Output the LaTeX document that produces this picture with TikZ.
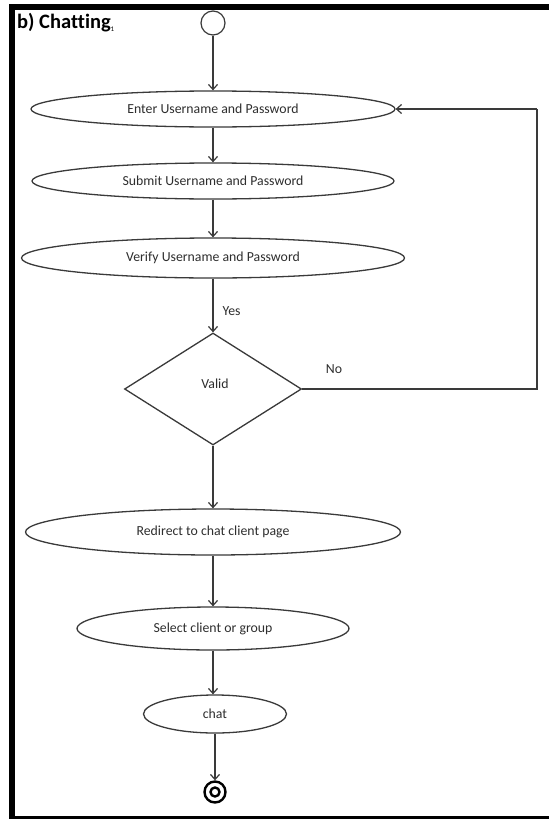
\documentclass[tikz,border=0pt]{standalone}
\usepackage{fontspec}
\setmainfont{Carlito}[Ligatures=NoCommon]
\usetikzlibrary{shapes.geometric,arrows.meta}
\definecolor{ln}{HTML}{3A3A3A}
\definecolor{tx}{HTML}{2E2E2E}
\tikzset{
  act/.style={ellipse, draw=ln, line width=1.3pt, inner sep=0pt, text=tx, font=\fontsize{13.8}{16}\selectfont},
  dec/.style={diamond, draw=ln, line width=1.3pt, inner sep=0pt, text=tx, font=\fontsize{13.8}{16}\selectfont},
  lbl/.style={text=tx, font=\fontsize{13.8}{16}\selectfont, inner sep=0pt},
  arr/.style={draw=ln, line width=1.2pt, -{Straight Barb[length=5pt,width=9pt]}},
  lin/.style={draw=ln, line width=1.2pt}
}
\begin{document}
\begin{tikzpicture}[x=1pt,y=-1pt]
\useasboundingbox (0,0) rectangle (549,819);
\fill[white] (0,0) rectangle (549,819);
% frame
\fill[black] (9,4) rectangle (549,10);
\fill[black] (9,4) rectangle (15,819);
\fill[black] (9,816) rectangle (549,819);
% title
\node[anchor=base west, inner sep=0pt, font=\fontsize{20.5}{24}\bfseries\selectfont] (title) at (17,28) {b) Chatting\textsubscript{\fontsize{7}{8}\selectfont\mdseries 1}};
% nodes
\node[circle, draw=ln, line width=1.2pt, minimum size=24pt, inner sep=0pt] (start) at (213,23) {};
\node[act, minimum width=364pt, minimum height=36pt] (e1) at (213,109) {Enter Username and Password};
\node[act, minimum width=362pt, minimum height=36pt] (e2) at (213,181) {Submit Username and Password};
\node[act, minimum width=383pt, minimum height=40pt] (e3) at (213,258) {Verify Username and Password};
\node[dec, minimum width=177pt, minimum height=112pt] (valid) at (213,389) {};
\node[lbl] (validt) at (215,384) {Valid};
\node[act, minimum width=375pt, minimum height=46pt] (e4) at (213,532) {Redirect to chat client page};
\node[act, minimum width=272pt, minimum height=43pt] (e5) at (213,628.5) {Select client or group};
\node[act, minimum width=143pt, minimum height=38pt] (e6) at (215,714) {chat};
\node[circle, draw=black, line width=2.4pt, minimum size=21pt, inner sep=0pt] (end) at (215,792) {};
\node[circle, draw=black, line width=2.4pt, minimum size=9pt, inner sep=0pt] (endin) at (215,792) {};
\coordinate (c1) at (537,389);
\coordinate (c2) at (537,109);
% connectors
\draw[arr] (start) -- (e1);
\draw[arr] (e1) -- (e2);
\draw[arr] (e2) -- (e3);
\draw[arr] (e3) -- node[lbl, pos=0.6, right=9pt] (yes) {Yes} (valid);
\draw[arr] (valid) -- (e4);
\draw[arr] (e4) -- (e5);
\draw[arr] (e5.south) -- (e5.south |- e6.north);
\draw[arr] (e6) -- (end);
\draw[lin] (valid.east) -- (c1) -- (c2);
\draw[arr] (c2) -- (e1.east);
\node[lbl] (no) at (334,369) {No};
\end{tikzpicture}
\end{document}
